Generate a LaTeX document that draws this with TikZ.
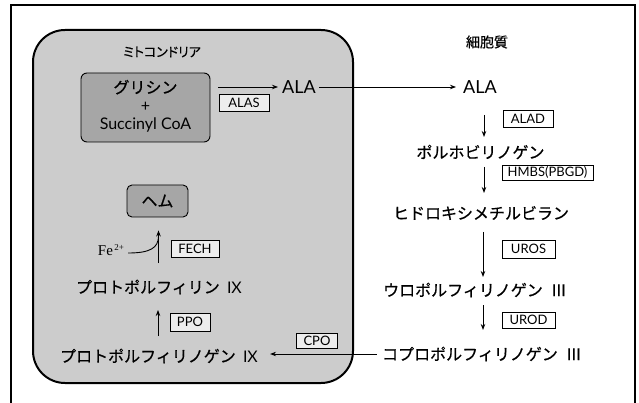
\documentclass[tikz,border=0pt]{standalone}
\usepackage{fontspec}
\setmainfont{Noto Sans CJK JP}[FakeBold=0.6]
\newfontfamily\jpp{Noto Sans CJK JP}[RawFeature=+palt, FakeBold=0.5]
\newfontfamily\lat{Lato}
\newfontfamily\fefont{Liberation Serif}
\usetikzlibrary{arrows.meta}
\begin{document}
\begin{tikzpicture}[x=1pt,y=-1pt,
  every node/.style={inner sep=0pt},
  jp/.style={font=\fontsize{16}{16}\selectfont},
  latx/.style={font=\lat\fontsize{18}{18}\selectfont},
  enz/.style={draw, line width=0.8pt, fill=white, font=\lat\fontsize{13}{13}\selectfont, minimum height=17pt},
  enzin/.style={enz, fill=black!7},
  dark/.style={draw, line width=0.9pt, rounded corners=6pt, fill=black!35},
  arr/.style={-{Stealth[length=6pt,width=4.5pt]}, line width=0.9pt}]
\useasboundingbox (0,0) rectangle (639,403);
\fill[white] (0,0) rectangle (639,403);
\draw[line width=1.8pt] (11,403) -- (11,5) -- (635,5) -- (635,403);
% mitochondrion
\draw[line width=2pt, fill=black!20, rounded corners=32pt] (33,30) rectangle (353,383);
\node[font=\jpp\fontsize{13}{13}\selectfont] (mito) at (162,52) {ミトコンドリア};
\node[font=\fontsize{14}{14}\selectfont] (cyto) at (487,42) {細胞質};
% glycine box
\node[dark, minimum width=129pt, minimum height=69pt] (gly) at (145.5,107.5) {};
\node[align=center, font=\fontsize{16}{18}\selectfont] (glyt) at (145.5,106) {グリシン\\{\lat\fontsize{16}{18}\selectfont +}\\{\lat\fontsize{16}{18}\selectfont Succinyl CoA}};
\node[latx] (ala1) at (299,87) {ALA};
\coordinate (alastart) at (218,87);
\draw[arr, shorten >=4pt] (alastart) -- (ala1.west);
\node[enzin, minimum width=50pt] (alas) at (244,102.5) {ALAS};
% cytosol column
\node[latx] (ala2) at (480,87) {ALA};
\draw[arr, shorten <=3pt, shorten >=7pt] (ala1.east) -- (ala2.west);
\node[jp] (pbg) at (480.5,152) {ポルホビリノゲン};
\node[jp] (hmb) at (481,213) {ヒドロキシメチルビラン};
\node[jp] (uro) at (475,290) {ウロポルフィリノゲン\hspace{0.5em}Ⅲ};
\node[jp] (copro) at (482,354) {コプロポルフィリノゲン\hspace{0.5em}Ⅲ};
\draw[arr, shorten <=28pt, shorten >=15pt] ([xshift=4pt]ala2.center) -- ([xshift=4pt]ala2.center |- pbg.center);
\draw[arr, shorten <=15pt, shorten >=20pt] ([xshift=3.5pt]pbg.center) -- ([xshift=3.5pt]pbg.center |- hmb.center);
\draw[arr, shorten <=19pt, shorten >=13pt] ([xshift=2pt]hmb.center) -- ([xshift=2pt]hmb.center |- uro.center);
\draw[arr, shorten <=15pt, shorten >=24pt] ([xshift=8pt]uro.center) -- ([xshift=8pt]uro.center |- copro.center);
\node[enz, minimum width=50pt] (alad) at (528,118.5) {ALAD};
\node[enz, minimum width=91pt, minimum height=15pt] (hmbs) at (547.5,172.5) {HMBS(PBGD)};
\node[enz, minimum width=53pt, minimum height=18pt] (uros) at (528.5,249) {UROS};
\node[enz, minimum width=53pt, minimum height=16pt] (urod) at (528.5,320) {UROD};
% mitochondrial column
\node[dark, minimum width=61pt, minimum height=32pt, rounded corners=5pt, font=\fontsize{16}{16}\selectfont] (heme) at (157.5,201) {ヘム};
\node[jp] (ppix) at (159,287) {プロトポルフィリン\hspace{0.45em}{\lat IX}};
\node[jp] (ppgen) at (159,356) {プロトポルフィリノゲン\hspace{0.45em}{\lat IX}};
\draw[arr, shorten <=24pt, shorten >=13pt] ([xshift=-0.5pt]ppix.center) -- ([xshift=-0.5pt]ppix.center |- heme.south);
\node[font=\fefont\fontsize{15}{15}\selectfont] (fe) at (111,250) {Fe\raisebox{5pt}{\fontsize{9}{9}\selectfont\,2+}};
\coordinate (fejoin) at (158.5,236);
\draw[line width=0.9pt] ([xshift=4pt,yshift=-3pt]fe.east) .. controls (150,253) and (158.5,248) .. (fejoin);
\node[enzin, minimum width=48pt] (fech) at (195,248.5) {FECH};
\draw[arr, shorten <=20pt, shorten >=23pt] ([xshift=-1pt]ppgen.center) -- ([xshift=-1pt]ppgen.center |- ppix.center);
\node[enzin, minimum width=40pt, minimum height=18pt] (ppo) at (190,322) {PPO};
\node[enzin, minimum width=41pt, minimum height=15pt] (cpo) at (317,340.5) {CPO};
\draw[arr, shorten <=5pt, shorten >=12pt] (copro.west) -- (copro.west -| ppgen.east);
\end{tikzpicture}
\end{document}
